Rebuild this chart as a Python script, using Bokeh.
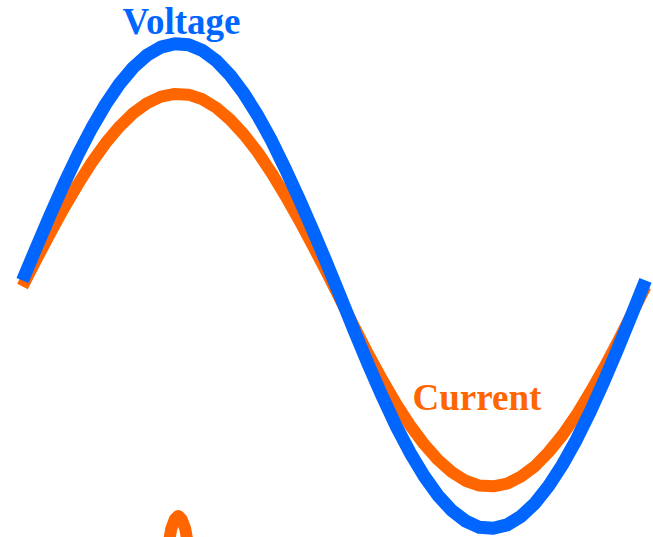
from bokeh.plotting import figure
from bokeh.models import Range1d
from bokeh.core.properties import value
from bokeh.embed import file_html
from bokeh.resources import INLINE

# phase angle (degrees)
phase = list(range(0, 361, 8))

voltage = [0.023, 0.159, 0.293, 0.421, 0.541, 0.651, 0.749, 0.833, 0.901, 0.952,
           0.985, 0.999, 0.995, 0.971, 0.929, 0.869, 0.793, 0.702, 0.598, 0.481,
           0.357, 0.226, 0.091, -0.049, -0.190, -0.327, -0.457, -0.579, -0.688, -0.783,
           -0.863, -0.925, -0.969, -0.995, -0.999, -0.985, -0.950, -0.897, -0.825, -0.737,
           -0.635, -0.519, -0.393, -0.259, -0.119, 0.023]

current = [-0.002, 0.109, 0.218, 0.322, 0.419, 0.509, 0.589, 0.657, 0.713, 0.754,
           0.781, 0.792, 0.789, 0.770, 0.735, 0.686, 0.624, 0.551, 0.465, 0.371,
           0.270, 0.163, 0.054, -0.060, -0.173, -0.284, -0.389, -0.487, -0.575, -0.652,
           -0.716, -0.767, -0.803, -0.823, -0.826, -0.815, -0.786, -0.744, -0.685, -0.615,
           -0.533, -0.439, -0.338, -0.230, -0.117, -0.002]

# partially visible orange mark at the bottom
spike_phase = [83, 86, 88, 90, 92, 94, 97]
spike_value = [-1.12, -1.00, -0.962, -0.948, -0.962, -1.00, -1.12]

labels = ["Voltage", "Current"]

BLUE = "#0066ff"
ORANGE = "#ff6600"

p = figure(width=653, height=537, output_backend="svg", toolbar_location=None,
           x_range=Range1d(-12.71, 364.62), y_range=Range1d(-1.0371, 1.1773),
           min_border=0)
p.axis.visible = False
p.grid.visible = False
p.outline_line_color = None
p.background_fill_color = "white"
p.border_fill_color = "white"

p.line(spike_phase, spike_value, line_color=ORANGE, line_width=12, line_join="round")
p.line(phase, current, line_color=ORANGE, line_width=12, line_join="round")
p.line(phase, voltage, line_color=BLUE, line_width=13, line_join="round")

p.text(x=[91.9], y=[1.0905], text=[labels[0]], text_color=BLUE,
       text_font=value("Liberation Serif"), text_font_style="bold",
       text_font_size="37px", text_align="center", text_baseline="alphabetic")
p.text(x=[225.4], y=[-0.4595], text=[labels[1]], text_color=ORANGE,
       text_font=value("Liberation Serif"), text_font_style="bold",
       text_font_size="37px", text_align="left", text_baseline="alphabetic")

open("out.html", "w").write(file_html(p, INLINE))
